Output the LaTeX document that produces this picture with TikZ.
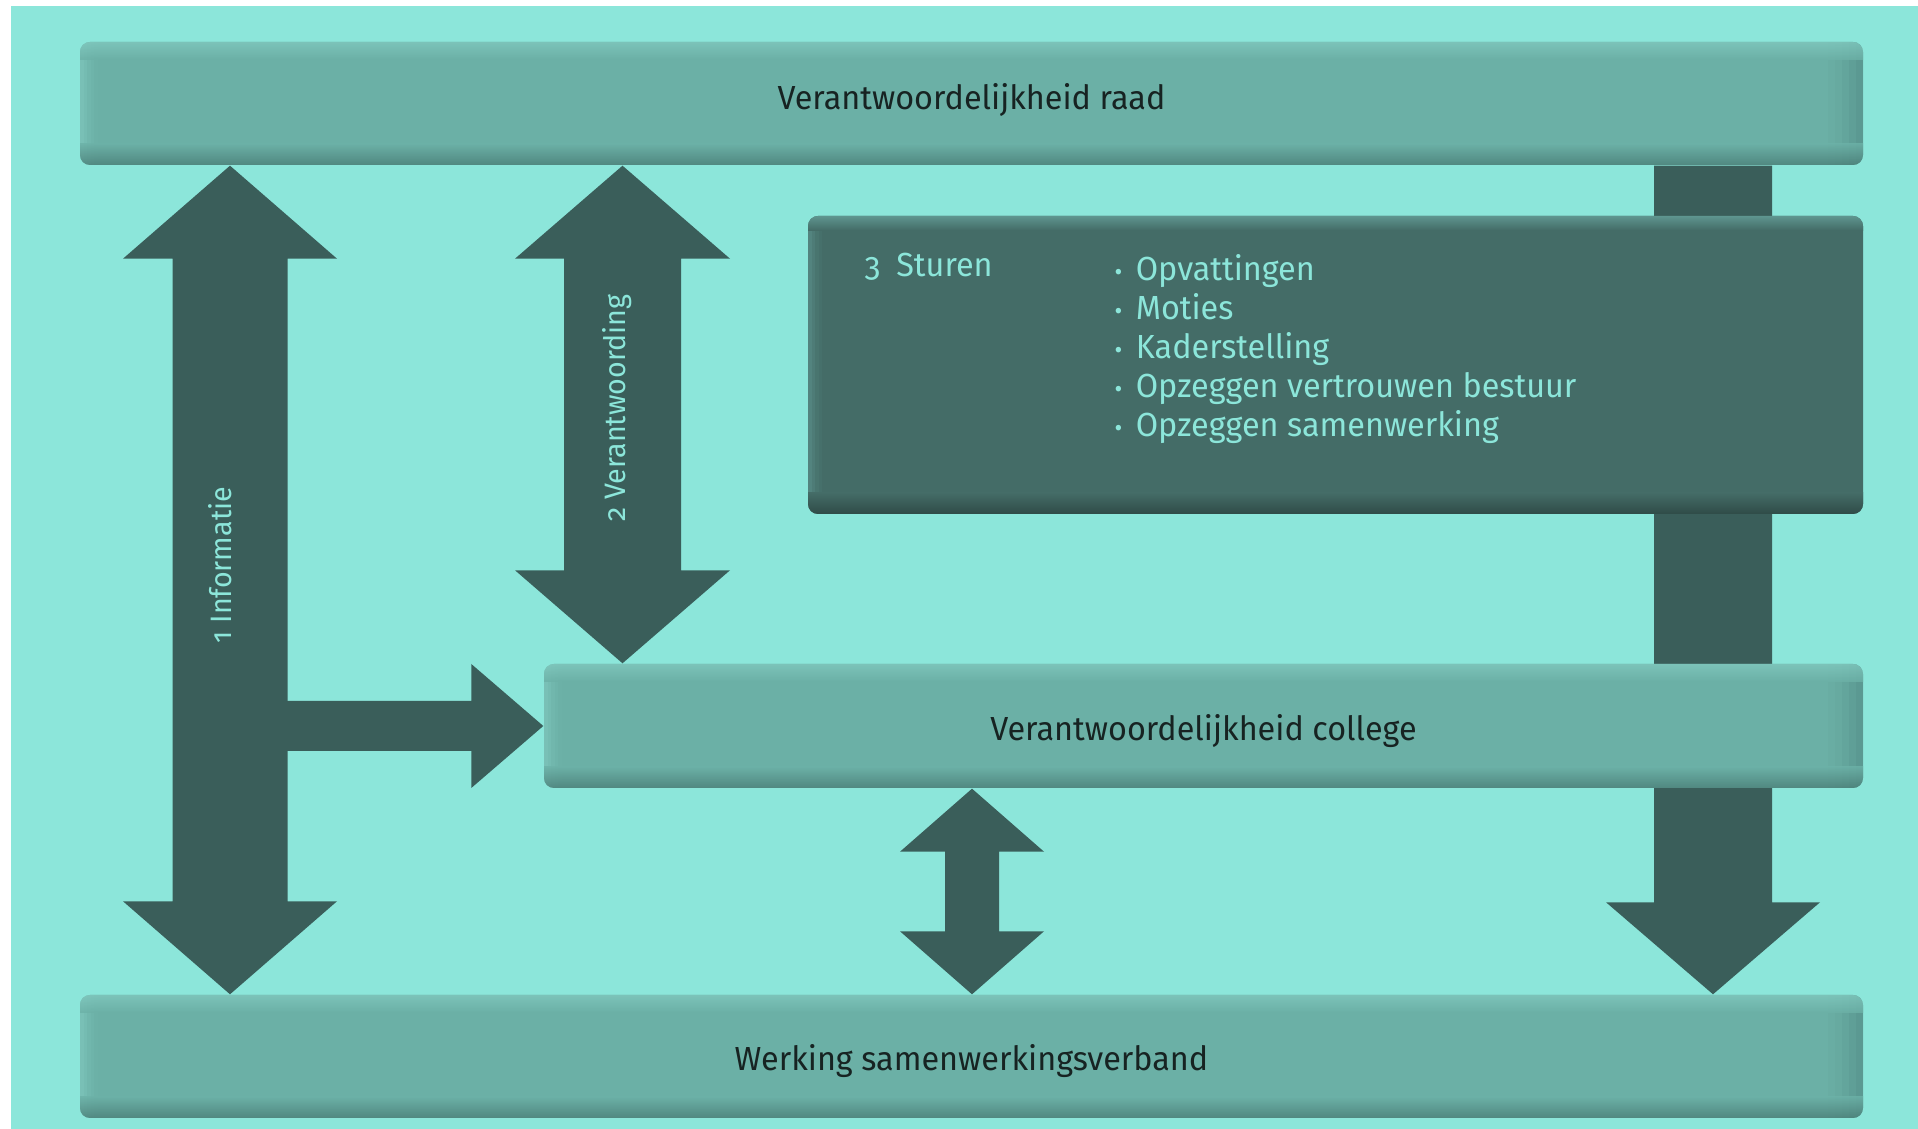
\documentclass[tikz,border=0pt]{standalone}
\usepackage{fontspec}
\setmainfont[Numbers=OldStyle, FakeStretch=0.97]{Fira Sans}
\usetikzlibrary{calc}

\definecolor{achtergrond}{HTML}{8CE6DA}
\definecolor{barcol}{HTML}{6BB0A6}
\definecolor{barlicht}{HTML}{80C8BE}
\definecolor{barrechts}{HTML}{55908A}
\definecolor{bardonker}{HTML}{4A7E77}
\definecolor{stcol}{HTML}{446C67}
\definecolor{sthoog}{HTML}{5E958F}
\definecolor{stlaag}{HTML}{2F4B47}
\definecolor{pijlcol}{HTML}{3A5E5A}
\definecolor{donkertekst}{HTML}{172322}
\definecolor{lichttekst}{HTML}{8CE6DA}

\tikzset{
  bar/.style={rounded corners=1mm, fill=barcol, inner sep=0pt, minimum height=12.3mm,
    text=donkertekst, font=\fontsize{9.5}{11}\selectfont, text height=8pt, text depth=0pt,
    path picture={
      \foreach \k/\o in {0/0.7,1/0.5,2/0.32,3/0.18,4/0.08}{
        \fill[sharp corners, barlicht, opacity=\o] ([xshift=\k pt]path picture bounding box.south west) rectangle ([xshift=\k pt+1pt]path picture bounding box.north west);
        \fill[sharp corners, barrechts, opacity=\o] ([xshift=-2*\k pt]path picture bounding box.south east) rectangle ([xshift=-2*\k pt-2pt]path picture bounding box.north east);
      }
      \shade[sharp corners, top color=barlicht, bottom color=barcol, opacity=0.8] (path picture bounding box.north west) rectangle ([yshift=-5pt]path picture bounding box.north east);
      \shade[sharp corners, top color=barcol, bottom color=bardonker, opacity=0.8] ([yshift=6pt]path picture bounding box.south west) rectangle (path picture bounding box.south east);
    }},
  stbox/.style={rounded corners=1mm, fill=stcol, inner sep=0pt,
    path picture={
      \foreach \k/\o in {0/0.6,1/0.4,2/0.22,3/0.1}
        \fill[sharp corners, sthoog, opacity=\o] ([xshift=\k pt]path picture bounding box.south west) rectangle ([xshift=\k pt+1pt]path picture bounding box.north west);
      \shade[sharp corners, top color=sthoog, bottom color=stcol] (path picture bounding box.north west) rectangle ([yshift=-4pt]path picture bounding box.north east);
      \shade[sharp corners, top color=stcol, bottom color=stlaag] ([yshift=6pt]path picture bounding box.south west) rectangle (path picture bounding box.south east);
    }},
  blokpijl/.style={fill=pijlcol},
  stuurtekst/.style={text=lichttekst, inner sep=0pt, font=\fontsize{9.5}{11}\selectfont},
  pijltekst/.style={text=lichttekst, inner sep=0pt, font=\fontsize{8.4}{10}\selectfont}
}

% dubbele blokpijl: bovenpunt, onderpunt, halve kop, halve schacht, koplengte
\newcommand\dubbelpijl[5]{%
  \fill[blokpijl] (#1) -- ++(#3,#5) -- ++({#4-#3},0) -- ([shift={(#4,-#5)}]#2) -- ++({#3-#4},0)
    -- (#2) -- ++(-#3,-#5) -- ++({#3-#4},0) -- ([shift={(-#4,#5)}]#1) -- ++({#4-#3},0) -- cycle;}

\begin{document}
\begin{tikzpicture}[x=0.1mm, y=-0.1mm]
  \useasboundingbox (0,0) rectangle (1918,1129);
  \fill[white] (0,0) rectangle (1918,1129);
  \fill[achtergrond] (11,6) rectangle (1918,1129);

  \node[bar, minimum width=178.3mm, text height=5.6pt, text depth=2pt] (raad) at (971.5,103.5) {Verantwoordelijkheid raad};
  \node[bar, minimum width=178.3mm] (werking) at (971.5,1056.5) {Werking samenwerkingsverband};

  % pijl 3 loopt achter de blokken door
  \coordinate (stop) at (1713,0 |- raad.south);
  \coordinate (sbot) at (1713,0 |- werking.north);
  \fill[blokpijl] ([shift={(-59,0)}]stop) -- ([shift={(-59,-92)}]sbot) -- ++(-48,0) -- (sbot)
    -- ++(107,-92) -- ++(-48,0) -- ([shift={(59,0)}]stop) -- cycle;

  \node[stbox, minimum width=105.5mm, minimum height=29.8mm] (sturen) at (1335.5,365) {};
  \node[bar, minimum width=131.9mm, minimum height=12.4mm] (college) at (1203.5,726) {Verantwoordelijkheid college};

  \node[stuurtekst, anchor=base west] (sturenkop) at (864,277) {3\hspace{4.5pt}Sturen};
  \foreach \punt [count=\i] in {Opvattingen, Moties, Kaderstelling, Opzeggen vertrouwen bestuur, Opzeggen samenwerking}
    \node[stuurtekst, anchor=base west] (punt\i) at (1114,{281+(\i-1)*39})
      {\makebox[6pt][l]{\fontsize{7}{7}\selectfont\textbullet}\punt};

  % 1 informatie
  \coordinate (itop) at (230,0 |- raad.south);
  \coordinate (ibot) at (230,0 |- werking.north);
  \dubbelpijl{itop}{ibot}{107}{57.5}{93}
  \fill[blokpijl] (college.west) -- ++(-72,-62) -- ++(0,37) -- ++(-222,0) -- ++(0,50)
    -- ++(222,0) -- ++(0,37) -- cycle;
  \node[pijltekst, rotate=90] (informatie) at (220,565) {1 Informatie};

  % 2 verantwoording
  \coordinate (vtop) at (622.5,0 |- raad.south);
  \coordinate (vbot) at (622.5,0 |- college.north);
  \dubbelpijl{vtop}{vbot}{107.5}{58.5}{93}
  \node[pijltekst, rotate=90] (verantwoording) at (617,408) {2 Verantwoording};

  % college - samenwerkingsverband
  \coordinate (ctop) at (972,0 |- college.south);
  \coordinate (cbot) at (972,0 |- werking.north);
  \dubbelpijl{ctop}{cbot}{72}{27}{63}
\end{tikzpicture}
\end{document}
